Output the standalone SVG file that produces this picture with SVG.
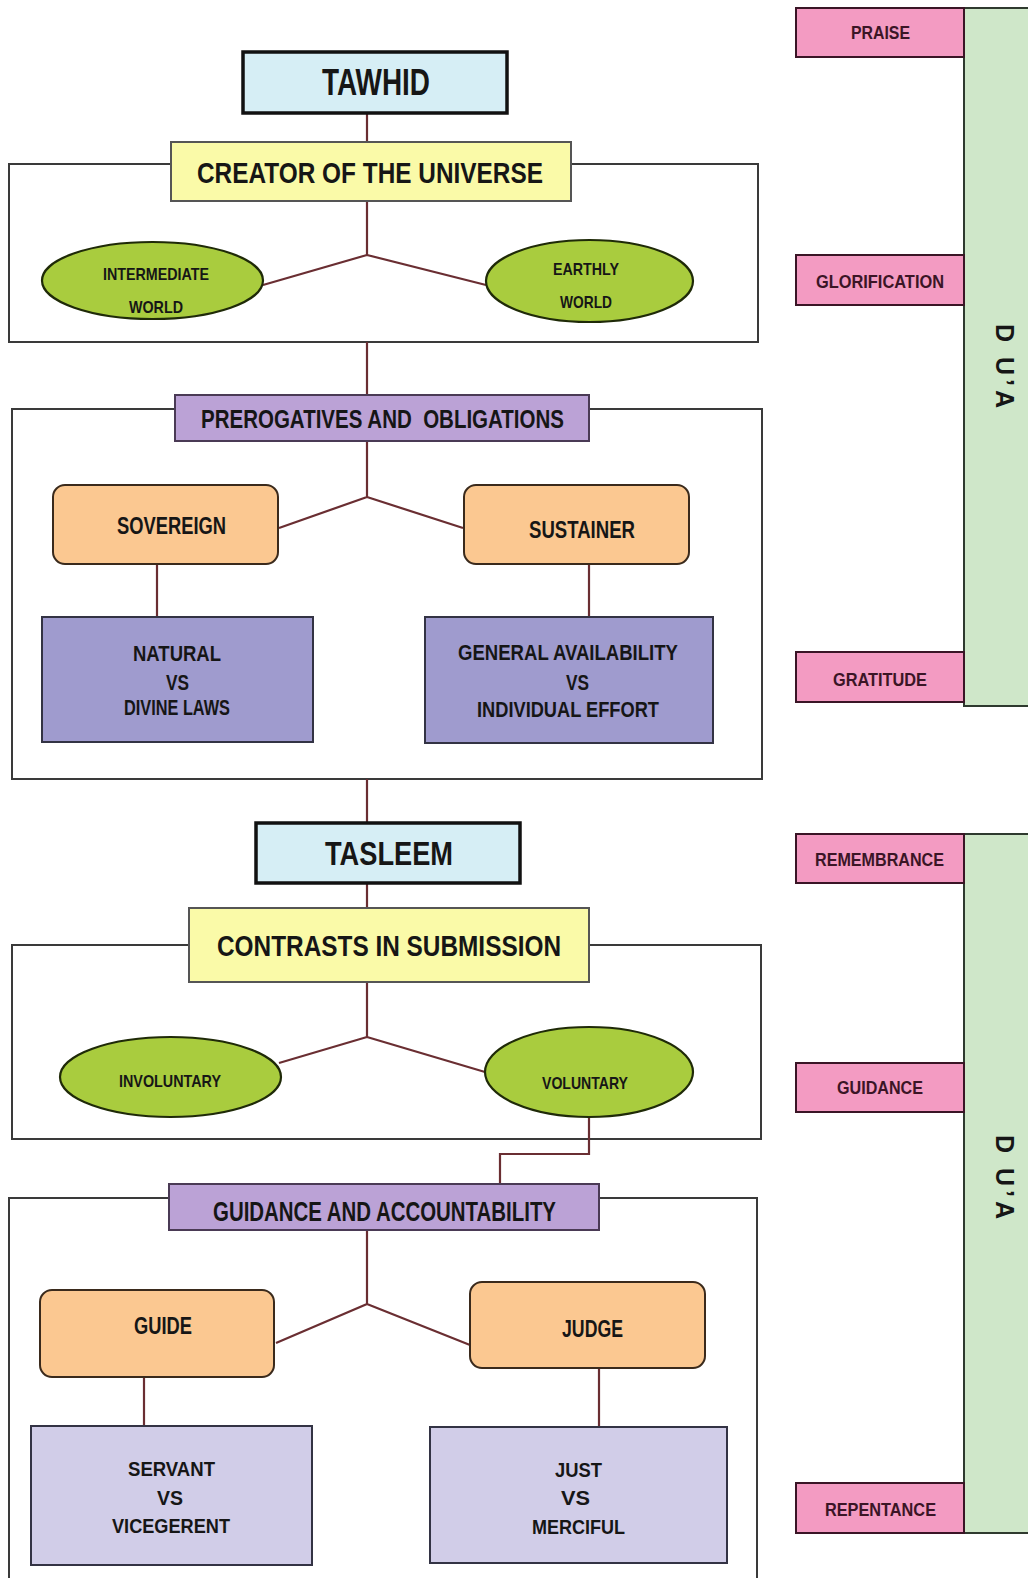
<svg xmlns="http://www.w3.org/2000/svg" width="1028" height="1578" viewBox="0 0 1028 1578">
<defs>
<style>
text{font-family:"Liberation Sans",Arial,sans-serif;font-weight:bold;fill:#161616}
.cont{fill:none;stroke:#3a3a3a;stroke-width:2}
.conn{fill:none;stroke:#6a2e32;stroke-width:2.2}
.top{fill:#d6eef5;stroke:#111;stroke-width:3.5}
.yel{fill:#fafaa8;stroke:#555;stroke-width:2}
.pur{fill:#bba2d6;stroke:#4a3a55;stroke-width:2}
.ora{fill:#fbc891;stroke:#3a2a1c;stroke-width:2}
.blu{fill:#9f9bce;stroke:#333344;stroke-width:2}
.lav{fill:#d1cde8;stroke:#333344;stroke-width:2}
.ell{fill:#a9cc3e;stroke:#1f2a08;stroke-width:2.2}
.pink{fill:#f39bc2;stroke:#3a1526;stroke-width:2}
.grn{fill:#cfe7c9;stroke:#2f3a2f;stroke-width:2}
.pt{fill:#3b1526}
.dua{font-size:25px;letter-spacing:4px}
</style>
</defs>
<rect width="1028" height="1578" fill="#ffffff"/>

<g id="containers">
<rect class="cont" x="9" y="164" width="749" height="178"/>
<rect class="cont" x="12" y="409" width="750" height="370"/>
<rect class="cont" x="12" y="945" width="749" height="194"/>
<path class="cont" d="M9,1580 V1198 H757 V1580"/>
</g>

<g id="connectors">
<path class="conn" d="M367,113 V142"/>
<path class="conn" d="M367,201 V255 L263,285 M367,255 L486,285"/>
<path class="conn" d="M367,342 V395"/>
<path class="conn" d="M367,441 V497 L279,528 M367,497 L463,528"/>
<path class="conn" d="M157,564 V617"/>
<path class="conn" d="M589,564 V617"/>
<path class="conn" d="M367,779 V823"/>
<path class="conn" d="M367,883 V908"/>
<path class="conn" d="M367,982 V1037 L279,1063 M367,1037 L485,1072"/>
<path class="conn" d="M589,1117 V1154 H500 V1184"/>
<path class="conn" d="M367,1230 V1304 L276,1343 M367,1304 L470,1345"/>
<path class="conn" d="M144,1377 V1426"/>
<path class="conn" d="M599,1368 V1427"/>
</g>

<g id="tawhid">
<rect class="top" x="243" y="52" width="264" height="61"/>
<text x="322" y="95" font-size="36" textLength="108" lengthAdjust="spacingAndGlyphs">TAWHID</text>
</g>
<g id="creator">
<rect class="yel" x="171" y="142" width="400" height="59"/>
<text x="197" y="183" font-size="30" textLength="346" lengthAdjust="spacingAndGlyphs">CREATOR OF THE UNIVERSE</text>
</g>
<g id="intermediate">
<ellipse class="ell" cx="152.5" cy="280.5" rx="110.5" ry="38.5"/>
<text x="103" y="280" font-size="17" textLength="106" lengthAdjust="spacingAndGlyphs">INTERMEDIATE</text>
<text x="129" y="313" font-size="17" textLength="54" lengthAdjust="spacingAndGlyphs">WORLD</text>
</g>
<g id="earthly">
<ellipse class="ell" cx="589.5" cy="281" rx="103.5" ry="41"/>
<text x="553" y="275" font-size="17" textLength="66" lengthAdjust="spacingAndGlyphs">EARTHLY</text>
<text x="560" y="308" font-size="17" textLength="52" lengthAdjust="spacingAndGlyphs">WORLD</text>
</g>

<g id="prerogatives">
<rect class="pur" x="175" y="395" width="414" height="46"/>
<text x="201" y="428" font-size="25" textLength="363" lengthAdjust="spacingAndGlyphs" xml:space="preserve">PREROGATIVES AND  OBLIGATIONS</text>
</g>
<g id="sovereign">
<rect class="ora" x="53" y="485" width="225" height="79" rx="12"/>
<text x="117" y="534" font-size="23" textLength="109" lengthAdjust="spacingAndGlyphs">SOVEREIGN</text>
</g>
<g id="sustainer">
<rect class="ora" x="464" y="485" width="225" height="79" rx="12"/>
<text x="529" y="538" font-size="23" textLength="106" lengthAdjust="spacingAndGlyphs">SUSTAINER</text>
</g>
<g id="natural">
<rect class="blu" x="42" y="617" width="271" height="125"/>
<text x="133" y="661" font-size="22" textLength="88" lengthAdjust="spacingAndGlyphs">NATURAL</text>
<text x="166" y="690" font-size="22" textLength="23" lengthAdjust="spacingAndGlyphs">VS</text>
<text x="124" y="715" font-size="22" textLength="106" lengthAdjust="spacingAndGlyphs">DIVINE LAWS</text>
</g>
<g id="general">
<rect class="blu" x="425" y="617" width="288" height="126"/>
<text x="458" y="660" font-size="22" textLength="220" lengthAdjust="spacingAndGlyphs">GENERAL AVAILABILITY</text>
<text x="566" y="690" font-size="22" textLength="23" lengthAdjust="spacingAndGlyphs">VS</text>
<text x="477" y="717" font-size="22" textLength="182" lengthAdjust="spacingAndGlyphs">INDIVIDUAL EFFORT</text>
</g>

<g id="tasleem">
<rect class="top" x="256" y="823" width="264" height="60"/>
<text x="325" y="865" font-size="34" textLength="128" lengthAdjust="spacingAndGlyphs">TASLEEM</text>
</g>
<g id="contrasts">
<rect class="yel" x="189" y="908" width="400" height="74"/>
<text x="217" y="956" font-size="29" textLength="344" lengthAdjust="spacingAndGlyphs">CONTRASTS IN SUBMISSION</text>
</g>
<g id="involuntary">
<ellipse class="ell" cx="170.5" cy="1077" rx="110.5" ry="40"/>
<text x="119" y="1087" font-size="17" textLength="102" lengthAdjust="spacingAndGlyphs">INVOLUNTARY</text>
</g>
<g id="voluntary">
<ellipse class="ell" cx="589" cy="1072" rx="104" ry="45"/>
<text x="542" y="1089" font-size="17" textLength="86" lengthAdjust="spacingAndGlyphs">VOLUNTARY</text>
</g>

<g id="guidance-accountability">
<rect class="pur" x="169" y="1184" width="430" height="46"/>
<text x="213" y="1221" font-size="27" textLength="343" lengthAdjust="spacingAndGlyphs">GUIDANCE AND ACCOUNTABILITY</text>
</g>
<g id="guide">
<rect class="ora" x="40" y="1290" width="234" height="87" rx="12"/>
<text x="134" y="1334" font-size="23" textLength="58" lengthAdjust="spacingAndGlyphs">GUIDE</text>
</g>
<g id="judge">
<rect class="ora" x="470" y="1282" width="235" height="86" rx="12"/>
<text x="562" y="1337" font-size="23" textLength="61" lengthAdjust="spacingAndGlyphs">JUDGE</text>
</g>
<g id="servant">
<rect class="lav" x="31" y="1426" width="281" height="139"/>
<text x="128" y="1476" font-size="21" textLength="87" lengthAdjust="spacingAndGlyphs">SERVANT</text>
<text x="157" y="1505" font-size="21" textLength="26" lengthAdjust="spacingAndGlyphs">VS</text>
<text x="112" y="1533" font-size="21" textLength="118" lengthAdjust="spacingAndGlyphs">VICEGERENT</text>
</g>
<g id="just">
<rect class="lav" x="430" y="1427" width="297" height="136"/>
<text x="555" y="1477" font-size="21" textLength="47" lengthAdjust="spacingAndGlyphs">JUST</text>
<text x="561" y="1505" font-size="21" textLength="29" lengthAdjust="spacingAndGlyphs">VS</text>
<text x="532" y="1534" font-size="21" textLength="93" lengthAdjust="spacingAndGlyphs">MERCIFUL</text>
</g>

<g id="dua-1">
<rect class="grn" x="964" y="8" width="70" height="698"/>
<text class="dua" transform="translate(996,324) rotate(90)">D U’A</text>
</g>
<g id="dua-2">
<rect class="grn" x="964" y="834" width="70" height="699"/>
<text class="dua" transform="translate(996,1135) rotate(90)">D U’A</text>
</g>

<g id="praise">
<rect class="pink" x="796" y="8" width="168" height="49"/>
<text class="pt" x="851" y="39" font-size="19" textLength="59" lengthAdjust="spacingAndGlyphs">PRAISE</text>
</g>
<g id="glorification">
<rect class="pink" x="796" y="255" width="168" height="50"/>
<text class="pt" x="816" y="288" font-size="19" textLength="128" lengthAdjust="spacingAndGlyphs">GLORIFICATION</text>
</g>
<g id="gratitude">
<rect class="pink" x="796" y="652" width="168" height="50"/>
<text class="pt" x="833" y="686" font-size="19" textLength="94" lengthAdjust="spacingAndGlyphs">GRATITUDE</text>
</g>
<g id="remembrance">
<rect class="pink" x="796" y="834" width="168" height="49"/>
<text class="pt" x="815" y="866" font-size="19" textLength="129" lengthAdjust="spacingAndGlyphs">REMEMBRANCE</text>
</g>
<g id="guidance">
<rect class="pink" x="796" y="1063" width="168" height="49"/>
<text class="pt" x="837" y="1094" font-size="19" textLength="86" lengthAdjust="spacingAndGlyphs">GUIDANCE</text>
</g>
<g id="repentance">
<rect class="pink" x="796" y="1483" width="168" height="50"/>
<text class="pt" x="825" y="1516" font-size="19" textLength="111" lengthAdjust="spacingAndGlyphs">REPENTANCE</text>
</g>
</svg>
